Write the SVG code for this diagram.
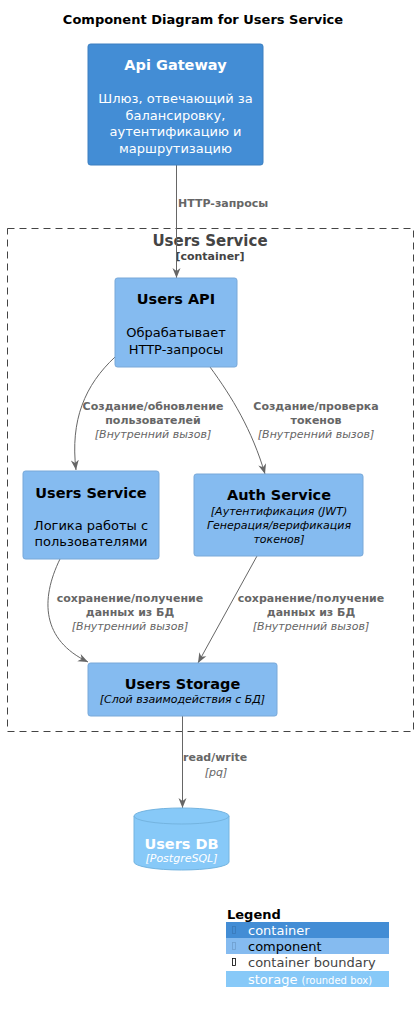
<svg xmlns="http://www.w3.org/2000/svg" width="419" height="1013" viewBox="0 0 419 1013">
<style>
text{font-family:"DejaVu Sans","Noto Sans",sans-serif;text-anchor:middle}
.t{font-weight:bold;font-size:13px;fill:#000}
.h{font-weight:bold;font-size:14.5px}
.d{font-size:13px}
.i{font-style:italic;font-size:11px}
.w{fill:#fff}
.k{fill:#000}
.lbl{font-weight:bold;font-size:11px;fill:#666}
.lbi{font-style:italic;font-size:11px;fill:#666}
.cont{fill:#438DD5;stroke:#3C7FC0;stroke-width:1}
.comp{fill:#85BBF0;stroke:#78A8D8;stroke-width:1}
.edge{fill:none;stroke:#666;stroke-width:1}
.lg{text-anchor:start;font-size:13px}
</style>
<defs>
<marker id="ah" viewBox="0 0 10 10" refX="10" refY="5" markerWidth="10" markerHeight="10" markerUnits="userSpaceOnUse" orient="auto">
<path d="M0,1 L10,5 L0,9 L3,5 Z" fill="#666"/>
</marker>
</defs>
<rect width="419" height="1013" fill="#fff"/>
<text class="t" x="203" y="24">Component Diagram for Users Service</text>

<g id="boundary">
<rect x="7.5" y="228.5" width="406" height="503" fill="none" stroke="#444" stroke-width="1" stroke-dasharray="7,5"/>
<text x="210" y="246" style="font-weight:bold;font-size:15px;fill:#444">Users Service</text>
<text x="210" y="260" style="font-weight:bold;font-size:11px;fill:#444">[container]</text>
</g>

<g id="connectors">
<path class="edge" d="M176.5,165 L176.5,278" marker-end="url(#ah)"/>
<path class="edge" d="M115,357 C85,385 70,420 76,470" marker-end="url(#ah)"/>
<path class="edge" d="M210,367 C232,397 252,430 265,474" marker-end="url(#ah)"/>
<path class="edge" d="M60,559 C40,600 42,640 88,662" marker-end="url(#ah)"/>
<path class="edge" d="M257,556 L198,663" marker-end="url(#ah)"/>
<path class="edge" d="M182.5,716 L182.5,808" marker-end="url(#ah)"/>
<text class="lbl" x="178" y="207" style="text-anchor:start">HTTP-запросы</text>
<text class="lbl" x="153" y="410">Создание/обновление</text>
<text class="lbl" x="153" y="424">пользователей</text>
<text class="lbi" x="153" y="438">[Внутренний вызов]</text>
<text class="lbl" x="316" y="410">Создание/проверка</text>
<text class="lbl" x="316" y="424">токенов</text>
<text class="lbi" x="316" y="438">[Внутренний вызов]</text>
<text class="lbl" x="130" y="602">сохранение/получение</text>
<text class="lbl" x="130" y="616">данных из БД</text>
<text class="lbi" x="130" y="630">[Внутренний вызов]</text>
<text class="lbl" x="311" y="602">сохранение/получение</text>
<text class="lbl" x="311" y="616">данных из БД</text>
<text class="lbi" x="311" y="630">[Внутренний вызов]</text>
<text class="lbl" x="183" y="761" style="text-anchor:start">read/write</text>
<text class="lbi" x="216" y="776">[pq]</text>
</g>

<g id="api-gateway">
<rect class="cont" x="88" y="44" width="175" height="121" rx="2.5"/>
<text class="h w" x="175.5" y="70">Api Gateway</text>
<text class="d w" x="175.5" y="103">Шлюз, отвечающий за</text>
<text class="d w" x="175.5" y="120">балансировку,</text>
<text class="d w" x="175.5" y="136">аутентификацию и</text>
<text class="d w" x="175.5" y="153">маршрутизацию</text>
</g>

<g id="users-api">
<rect class="comp" x="115" y="278" width="122" height="89" rx="2.5"/>
<text class="h k" x="176" y="304">Users API</text>
<text class="d k" x="176" y="337">Обрабатывает</text>
<text class="d k" x="176" y="354">HTTP-запросы</text>
</g>

<g id="users-service">
<rect class="comp" x="23" y="471" width="136" height="88" rx="2.5"/>
<text class="h k" x="91" y="498">Users Service</text>
<text class="d k" x="91" y="530">Логика работы с</text>
<text class="d k" x="91" y="546">пользователями</text>
</g>

<g id="auth-service">
<rect class="comp" x="194" y="474" width="169" height="82" rx="2.5"/>
<text class="h k" x="279" y="500">Auth Service</text>
<text class="i k" x="279" y="515">[Аутентификация (JWT)</text>
<text class="i k" x="279" y="529">Генерация/верификация</text>
<text class="i k" x="279" y="543">токенов]</text>
</g>

<g id="users-storage">
<rect class="comp" x="88" y="663" width="189" height="53" rx="2.5"/>
<text class="h k" x="182.5" y="689">Users Storage</text>
<text class="i k" x="182.5" y="703">[Слой взаимодействия с БД]</text>
</g>

<g id="users-db">
<path d="M134,816 L134,862 A47.5,8 0 0 0 229,862 L229,816 A47.5,8 0 0 0 134,816 Z" fill="#87C9F8" stroke="#74B4E0" stroke-width="1"/>
<path d="M134,816 A47.5,8 0 0 0 229,816" fill="none" stroke="#74B4E0" stroke-width="1"/>
<text class="h w" x="181.5" y="849">Users DB</text>
<text class="i w" x="181.5" y="862">[PostgreSQL]</text>
</g>

<g id="legend">
<text x="227" y="919" style="text-anchor:start;font-weight:bold;font-size:13px;fill:#000">Legend</text>
<rect x="226" y="922" width="163" height="16" fill="#438DD5"/>
<rect x="226" y="938" width="163" height="16" fill="#85BBF0"/>
<rect x="226" y="971" width="163" height="16" fill="#87C9F8"/>
<rect x="232.5" y="926.5" width="3" height="7" fill="none" stroke="#3A79B8" stroke-width="0.8"/>
<rect x="232.5" y="942.5" width="3" height="7" fill="none" stroke="#6F9FCF" stroke-width="0.8"/>
<rect x="232.5" y="958.5" width="3" height="7" fill="none" stroke="#000" stroke-width="0.8"/>
<text class="lg" x="248" y="935" fill="#fff">container</text>
<text class="lg" x="248" y="951" fill="#000">component</text>
<text class="lg" x="248" y="967" fill="#444">container boundary</text>
<text class="lg" x="248" y="984" fill="#fff">storage <tspan style="font-size:10px">(rounded box)</tspan></text>
</g>
</svg>
